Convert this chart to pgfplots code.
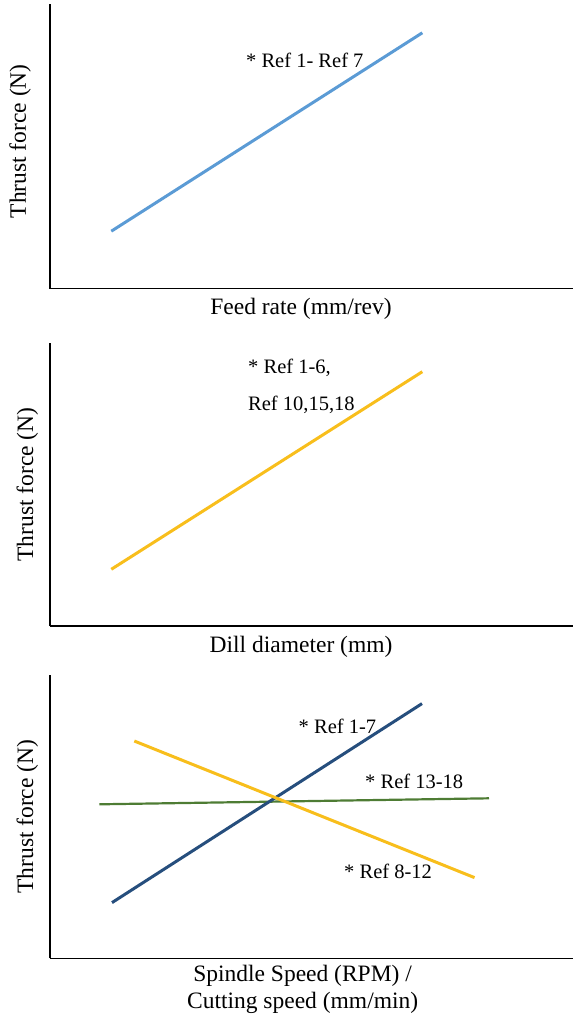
\documentclass[border=0pt]{standalone}
\usepackage{pgfplots}
\pgfplotsset{compat=1.18}
\usepackage{fontspec}
\setmainfont{Liberation Serif}
\definecolor{lblue}{HTML}{5B9BD5}
\definecolor{myyel}{HTML}{F8BE1C}
\definecolor{dblue}{HTML}{264E7D}
\definecolor{mygreen}{HTML}{4E7C34}
\tikzset{ann/.style={font=\fontsize{20.5bp}{24bp}\selectfont, anchor=base west, inner sep=0pt}}
\pgfplotsset{
  panel/.style={
    scale only axis, width=523bp,
    xmin=0, xmax=523, ymin=0,
    axis x line=bottom, axis y line=left,
    axis line style={-, black, line width=1.2bp},
    xtick=\empty, ytick=\empty,
    clip=false,
    label style={font=\fontsize{23.5bp}{27bp}\selectfont},
    anchor=south west,
  },
}
\begin{document}
\begin{tikzpicture}
\useasboundingbox (0,0) rectangle (573bp,-1019bp);
% Panel 1
\begin{axis}[panel, at={(50bp,-288.5bp)}, height=284.5bp, ymax=284.5,
  xlabel={Feed rate (mm/rev)},
  xlabel style={at={(axis description cs:0.48,-0.0912)}, anchor=base},
  ylabel={Thrust force (N)},
  ylabel style={at={(axis description cs:-0.046,0.5175)}, anchor=base}]
\addplot[lblue, line width=3bp] coordinates {(61.3,57.3) (372.3,255.7)};
\node[ann] at (axis cs:196,221) {* Ref 1- Ref 7};
\end{axis}
% Panel 2
\begin{axis}[panel, at={(50bp,-626bp)}, height=283bp, ymax=283,
  xlabel={Dill diameter (mm)},
  xlabel style={at={(axis description cs:0.48,-0.092)}, anchor=base},
  ylabel={Thrust force (N)},
  ylabel style={at={(axis description cs:-0.0325,0.5)}, anchor=base}]
\addplot[myyel, line width=3bp] coordinates {(61.3,56.7) (372.3,254.3)};
\node[ann] at (axis cs:198,253) {* Ref 1-6,};
\node[ann] at (axis cs:198,216) {Ref 10,15,18};
\end{axis}
% Panel 3
\begin{axis}[panel, at={(50bp,-958.3bp)}, height=283.3bp, ymax=283.3,
  xlabel={Spindle Speed (RPM) /\\Cutting speed (mm/min)},
  xlabel style={at={(axis description cs:0.483,-0.1765)}, anchor=base, align=center},
  ylabel={Thrust force (N)},
  ylabel style={at={(axis description cs:-0.0325,0.5)}, anchor=base}]
\addplot[mygreen, line width=2.2bp] coordinates {(49.3,154) (439,160)};
\addplot[dblue, line width=3bp] coordinates {(62,55.7) (372,254.7)};
\addplot[myyel, line width=3bp] coordinates {(84.3,217.3) (424.5,80.7)};
\node[ann] at (axis cs:248.5,225) {* Ref 1-7};
\node[ann] at (axis cs:315,170) {* Ref 13-18};
\node[ann] at (axis cs:294,80) {* Ref 8-12};
\end{axis}
\end{tikzpicture}
\end{document}
